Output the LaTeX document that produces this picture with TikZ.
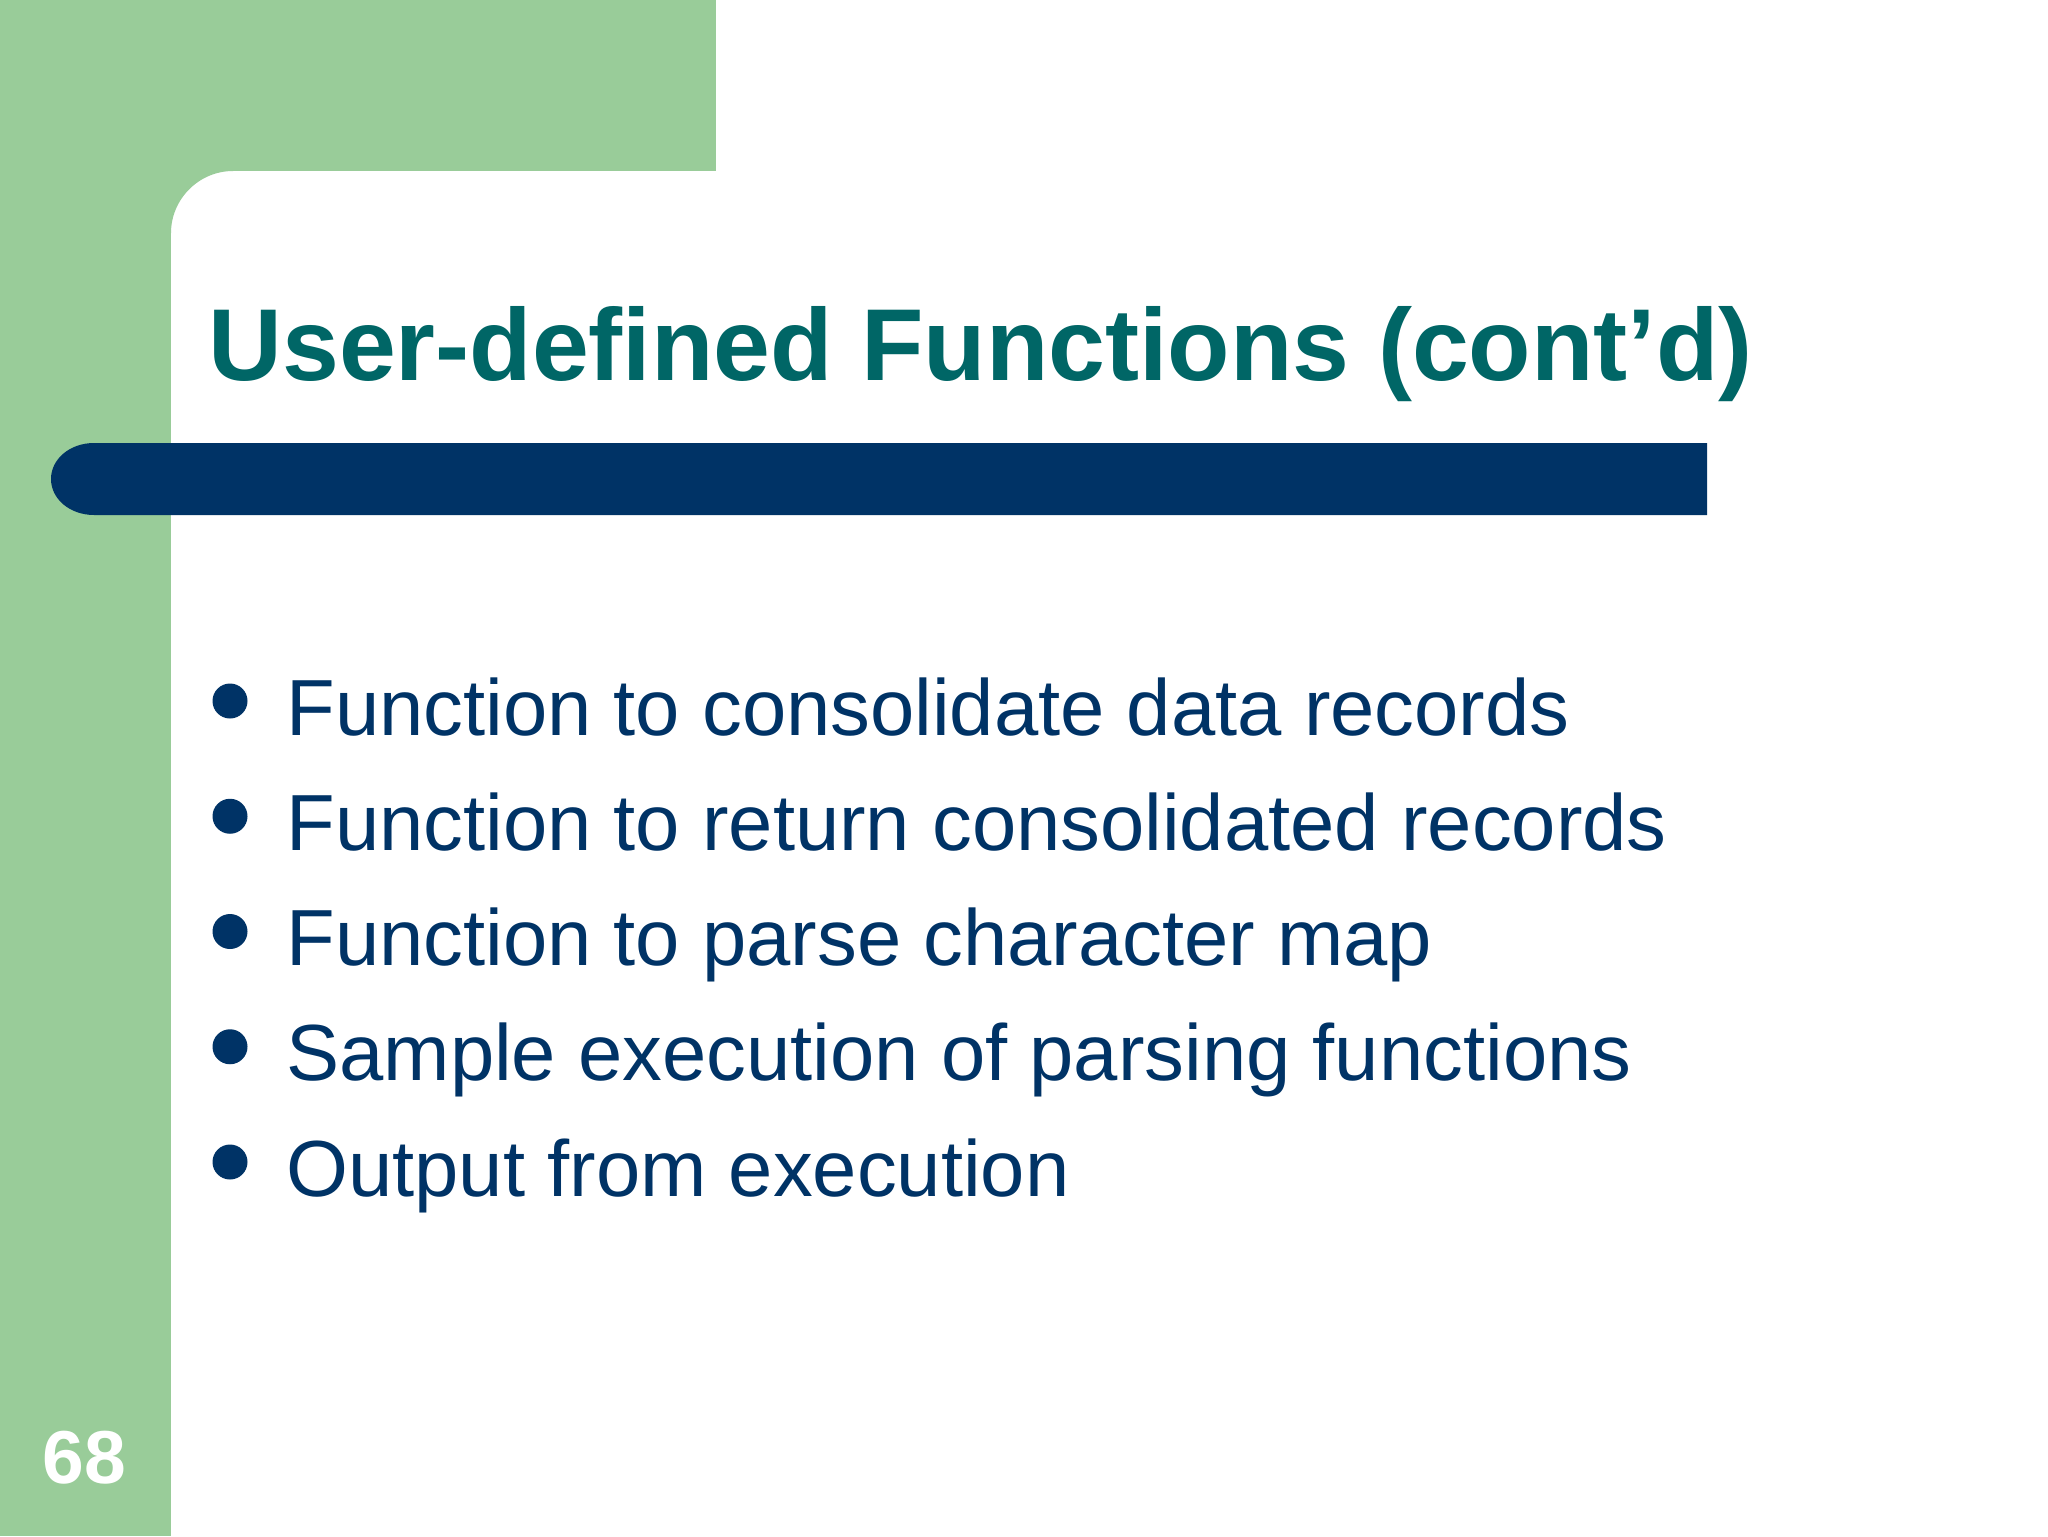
\documentclass[tikz,border=0pt]{standalone}
\usepackage{fontspec}
\setmainfont{Liberation Sans}
\definecolor{sidegreen}{RGB}{153,204,153}
\definecolor{titleteal}{RGB}{0,102,102}
\definecolor{navy}{RGB}{0,51,102}
\begin{document}
\begin{tikzpicture}[x=0.5pt,y=-0.5pt,
  titletext/.style={anchor=base west,inner sep=0pt,text=titleteal,font=\fontsize{51.1pt}{60pt}\selectfont\bfseries},
  itemtext/.style={anchor=base west,inner sep=0pt,text=navy,font=\fontsize{39.8pt}{48pt}\selectfont},
  dot/.style={circle,fill=navy,inner sep=0pt,minimum size=17.5pt},
  pagenum/.style={anchor=base west,inner sep=0pt,text=white,font=\fontsize{37.5pt}{44pt}\selectfont\bfseries}]
\useasboundingbox (0,0) rectangle (2048,1536);
\fill[white] (0,0) rectangle (2048,1536);
% green frame
\fill[sidegreen] (0,0) rectangle (171,1536);
\fill[sidegreen] (0,0) rectangle (716,171);
\fill[sidegreen] (171,171) -- (233,171) .. controls (199,171) and (171,199) .. (171,233) -- cycle;
% navy bar
\fill[navy] (1707,443) -- (94,443) .. controls (70,443) and (51,459) .. (51,479)
  .. controls (51,499) and (70,515) .. (94,515) -- (1707,515) -- cycle;
% title
\node[titletext] (title) at (208,380) {User-defined Functions (cont’d)};
% bullets
\foreach \i/\t in {0/Function to consolidate data records,
                   1/Function to return consolidated records,
                   2/Function to parse character map,
                   3/Sample execution of parsing functions,
                   4/Output from execution}{
  \node[dot] (d\i) at (230,{701+115.25*\i}) {};
  \node[itemtext] (t\i) at (286,{735+115.25*\i}) {\t};
}
% page number
\node[pagenum] (pg) at (42,1483) {68};
\end{tikzpicture}
\end{document}
